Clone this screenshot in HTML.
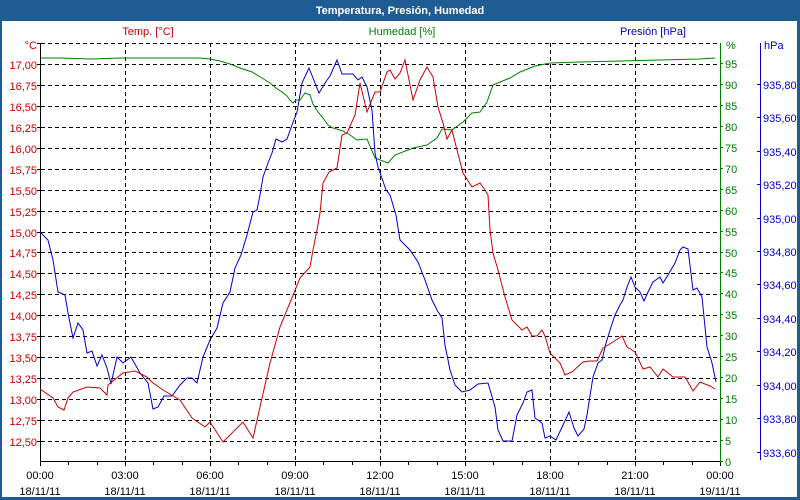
<!DOCTYPE html>
<html><head><meta charset="utf-8"><style>
html,body{margin:0;padding:0;background:#fff}
svg{display:block}
text{font-family:"Liberation Sans",sans-serif;font-size:11px}
</style></head><body>
<svg width="800" height="500" viewBox="0 0 800 500" xmlns="http://www.w3.org/2000/svg">
<rect x="0" y="0" width="800" height="500" fill="#1f5c93"/>
<rect x="2" y="21" width="795" height="476" fill="#fff"/>
<text x="400" y="14" text-anchor="middle" fill="#fff" font-weight="bold" style="font-size:11px">Temperatura, Presión, Humedad</text>
<text x="148" y="35" text-anchor="middle" fill="#cc0000">Temp. [°C]</text>
<text x="402" y="35" text-anchor="middle" fill="#008000">Humedad [%]</text>
<text x="686" y="35" text-anchor="end" fill="#0000cc">Presión [hPa]</text>
<g stroke="#000" stroke-dasharray="4,3" stroke-width="1">
<line x1="41" y1="43.5" x2="720" y2="43.5"/>
<line x1="41" y1="64.5" x2="720" y2="64.5"/><line x1="41" y1="85.5" x2="720" y2="85.5"/><line x1="41" y1="106.5" x2="720" y2="106.5"/><line x1="41" y1="127.5" x2="720" y2="127.5"/><line x1="41" y1="148.5" x2="720" y2="148.5"/><line x1="41" y1="169.5" x2="720" y2="169.5"/><line x1="41" y1="190.5" x2="720" y2="190.5"/><line x1="41" y1="211.5" x2="720" y2="211.5"/><line x1="41" y1="232.5" x2="720" y2="232.5"/><line x1="41" y1="252.5" x2="720" y2="252.5"/><line x1="41" y1="273.5" x2="720" y2="273.5"/><line x1="41" y1="294.5" x2="720" y2="294.5"/><line x1="41" y1="315.5" x2="720" y2="315.5"/><line x1="41" y1="336.5" x2="720" y2="336.5"/><line x1="41" y1="357.5" x2="720" y2="357.5"/><line x1="41" y1="378.5" x2="720" y2="378.5"/><line x1="41" y1="399.5" x2="720" y2="399.5"/><line x1="41" y1="420.5" x2="720" y2="420.5"/><line x1="41" y1="441.5" x2="720" y2="441.5"/>
<line x1="125.5" y1="43" x2="125.5" y2="461"/><line x1="210.5" y1="43" x2="210.5" y2="461"/><line x1="295.5" y1="43" x2="295.5" y2="461"/><line x1="380.5" y1="43" x2="380.5" y2="461"/><line x1="465.5" y1="43" x2="465.5" y2="461"/><line x1="550.5" y1="43" x2="550.5" y2="461"/><line x1="635.5" y1="43" x2="635.5" y2="461"/>
</g>
<g stroke="#000" stroke-width="1" fill="none">
<line x1="40.5" y1="43" x2="40.5" y2="466"/>
<line x1="40" y1="461.5" x2="720" y2="461.5"/>
<path d="M40,43.5h-3M40,64.5h-3M40,85.5h-3M40,106.5h-3M40,127.5h-3M40,148.5h-3M40,169.5h-3M40,190.5h-3M40,211.5h-3M40,232.5h-3M40,252.5h-3M40,273.5h-3M40,294.5h-3M40,315.5h-3M40,336.5h-3M40,357.5h-3M40,378.5h-3M40,399.5h-3M40,420.5h-3M40,441.5h-3"/>
<path d="M68.5,461v4M97.5,461v4M125.5,461v5M153.5,461v4M182.5,461v4M210.5,461v5M238.5,461v4M267.5,461v4M295.5,461v5M323.5,461v4M352.5,461v4M380.5,461v5M408.5,461v4M437.5,461v4M465.5,461v5M493.5,461v4M522.5,461v4M550.5,461v5M578.5,461v4M607.5,461v4M635.5,461v5M663.5,461v4M692.5,461v4M720.5,461v5"/>
</g>
<line x1="720.5" y1="43" x2="720.5" y2="462" stroke="#008000"/>
<path d="M720,63.5h3M720,84.5h3M720,105.5h3M720,126.5h3M720,147.5h3M720,168.5h3M720,189.5h3M720,210.5h3M720,231.5h3M720,252.5h3M720,272.5h3M720,293.5h3M720,314.5h3M720,335.5h3M720,356.5h3M720,377.5h3M720,398.5h3M720,419.5h3M720,440.5h3M720,461.5h3" stroke="#008000"/>
<line x1="760.5" y1="43" x2="760.5" y2="460" stroke="#0000cc"/>
<path d="M757,84.5h3M757,117.5h3M757,151.5h3M757,184.5h3M757,218.5h3M757,251.5h3M757,284.5h3M757,318.5h3M757,351.5h3M757,385.5h3M757,418.5h3M757,452.5h3" stroke="#0000cc"/>
<g fill="#cc0000" text-anchor="end">
<text x="37" y="49">°C</text>
<text x="37" y="69">17,00</text><text x="37" y="90">16,75</text><text x="37" y="111">16,50</text><text x="37" y="132">16,25</text><text x="37" y="153">16,00</text><text x="37" y="174">15,75</text><text x="37" y="195">15,50</text><text x="37" y="216">15,25</text><text x="37" y="237">15,00</text><text x="37" y="257">14,75</text><text x="37" y="278">14,50</text><text x="37" y="299">14,25</text><text x="37" y="320">14,00</text><text x="37" y="341">13,75</text><text x="37" y="362">13,50</text><text x="37" y="383">13,25</text><text x="37" y="404">13,00</text><text x="37" y="425">12,75</text><text x="37" y="446">12,50</text>
</g>
<g fill="#008000">
<text x="726" y="49">%</text>
<text x="725" y="68">95</text><text x="725" y="89">90</text><text x="725" y="110">85</text><text x="725" y="131">80</text><text x="725" y="152">75</text><text x="725" y="173">70</text><text x="725" y="194">65</text><text x="725" y="215">60</text><text x="725" y="236">55</text><text x="725" y="257">50</text><text x="725" y="277">45</text><text x="725" y="298">40</text><text x="725" y="319">35</text><text x="725" y="340">30</text><text x="725" y="361">25</text><text x="725" y="382">20</text><text x="725" y="403">15</text><text x="725" y="424">10</text><text x="725" y="445">5</text><text x="725" y="466">0</text>
</g>
<g fill="#0000cc">
<text x="764" y="49">hPa</text>
<text x="763" y="89">935,80</text><text x="763" y="122">935,60</text><text x="763" y="156">935,40</text><text x="763" y="189">935,20</text><text x="763" y="223">935,00</text><text x="763" y="256">934,80</text><text x="763" y="289">934,60</text><text x="763" y="323">934,40</text><text x="763" y="356">934,20</text><text x="763" y="390">934,00</text><text x="763" y="423">933,80</text><text x="763" y="457">933,60</text>
</g>
<g fill="#000" text-anchor="middle">
<text x="40" y="479">00:00</text><text x="40" y="495">18/11/11</text>
<text x="125" y="479">03:00</text><text x="125" y="495">18/11/11</text>
<text x="210" y="479">06:00</text><text x="210" y="495">18/11/11</text>
<text x="295" y="479">09:00</text><text x="295" y="495">18/11/11</text>
<text x="380" y="479">12:00</text><text x="380" y="495">18/11/11</text>
<text x="465" y="479">15:00</text><text x="465" y="495">18/11/11</text>
<text x="550" y="479">18:00</text><text x="550" y="495">18/11/11</text>
<text x="635" y="479">21:00</text><text x="635" y="495">18/11/11</text>
<text x="720" y="479">00:00</text><text x="720" y="495">19/11/11</text>
</g>
<polyline fill="none" stroke="#008000" stroke-width="1" points="41,58 60,58 90,59 120,58 150,58 170,58 190,58 200,58 210,59 220,61 230,64 240,68 252,72 262,78 270,83 276,88 282,92 287,96 290,100 293,103 296,100 300,100 305,93 310,95 313,104 318,112 323,118 328,125 333,128 343,131 350,135 357,140 367,139 375,158 388,163 395,155 413,148 427,145 437,138 442,129 452,130 463,122 472,113 480,112 487,102 493,85 500,82 510,78 520,72 535,66 550,63 580,62 620,61 660,60 700,59 715,58"/>
<polyline fill="none" stroke="#0000cc" stroke-width="1" points="40,232 48,240 53,260 58,292 65,295 68,313 73,338 78,323 83,330 87,353 92,351 97,366 102,355 107,368 111,384 117,357 123,363 131,357 140,373 148,383 153,409 158,407 164,396 172,396 180,385 187,378 192,378 197,383 203,357 210,340 217,328 223,303 230,292 235,268 241,255 247,235 253,212 257,210 260,195 263,177 268,163 272,153 276,139 282,142 287,139 292,125 297,112 302,83 309,68 319,93 327,80 330,76 337,60 342,74 353,74 358,80 362,77 367,87 372,110 375,153 378,167 386,190 390,195 396,215 400,240 405,245 410,250 418,262 425,280 432,300 437,310 442,318 445,345 450,370 455,385 462,392 470,390 478,384 488,383 495,407 498,430 503,441 512,441 517,415 523,403 527,392 532,390 535,418 542,423 545,438 550,436 556,440 563,425 569,412 574,428 578,436 584,429 587,415 593,377 598,363 602,360 606,343 611,327 615,315 620,305 623,300 627,287 631,277 635,287 640,292 644,301 648,292 653,282 660,277 663,283 668,275 675,263 680,250 683,247 688,249 693,290 697,288 702,297 707,347 712,363 716,382"/>
<polyline fill="none" stroke="#cc0000" stroke-width="1" points="40,389 53,398 58,407 64,410 68,398 73,392 87,387 100,388 107,395 108,385 123,373 135,371 147,377 153,383 163,390 180,400 192,418 205,427 210,422 223,442 243,422 253,438 260,407 270,363 280,327 300,278 310,267 313,250 317,230 320,213 323,183 329,172 337,168 342,135 347,133 355,115 360,83 367,112 375,92 380,92 387,72 390,70 395,79 400,73 405,60 413,100 420,80 427,67 433,77 438,107 443,123 447,139 452,130 457,150 463,173 472,187 480,183 485,190 488,195 490,230 493,253 498,270 505,297 512,320 522,330 527,327 532,336 537,336 542,330 545,336 550,353 555,358 560,363 565,375 572,372 583,362 590,361 597,361 603,348 613,342 622,336 627,347 635,352 643,369 650,367 658,377 663,369 673,377 685,377 688,382 693,391 700,382 710,386 715,389"/>
</svg>
</body></html>
